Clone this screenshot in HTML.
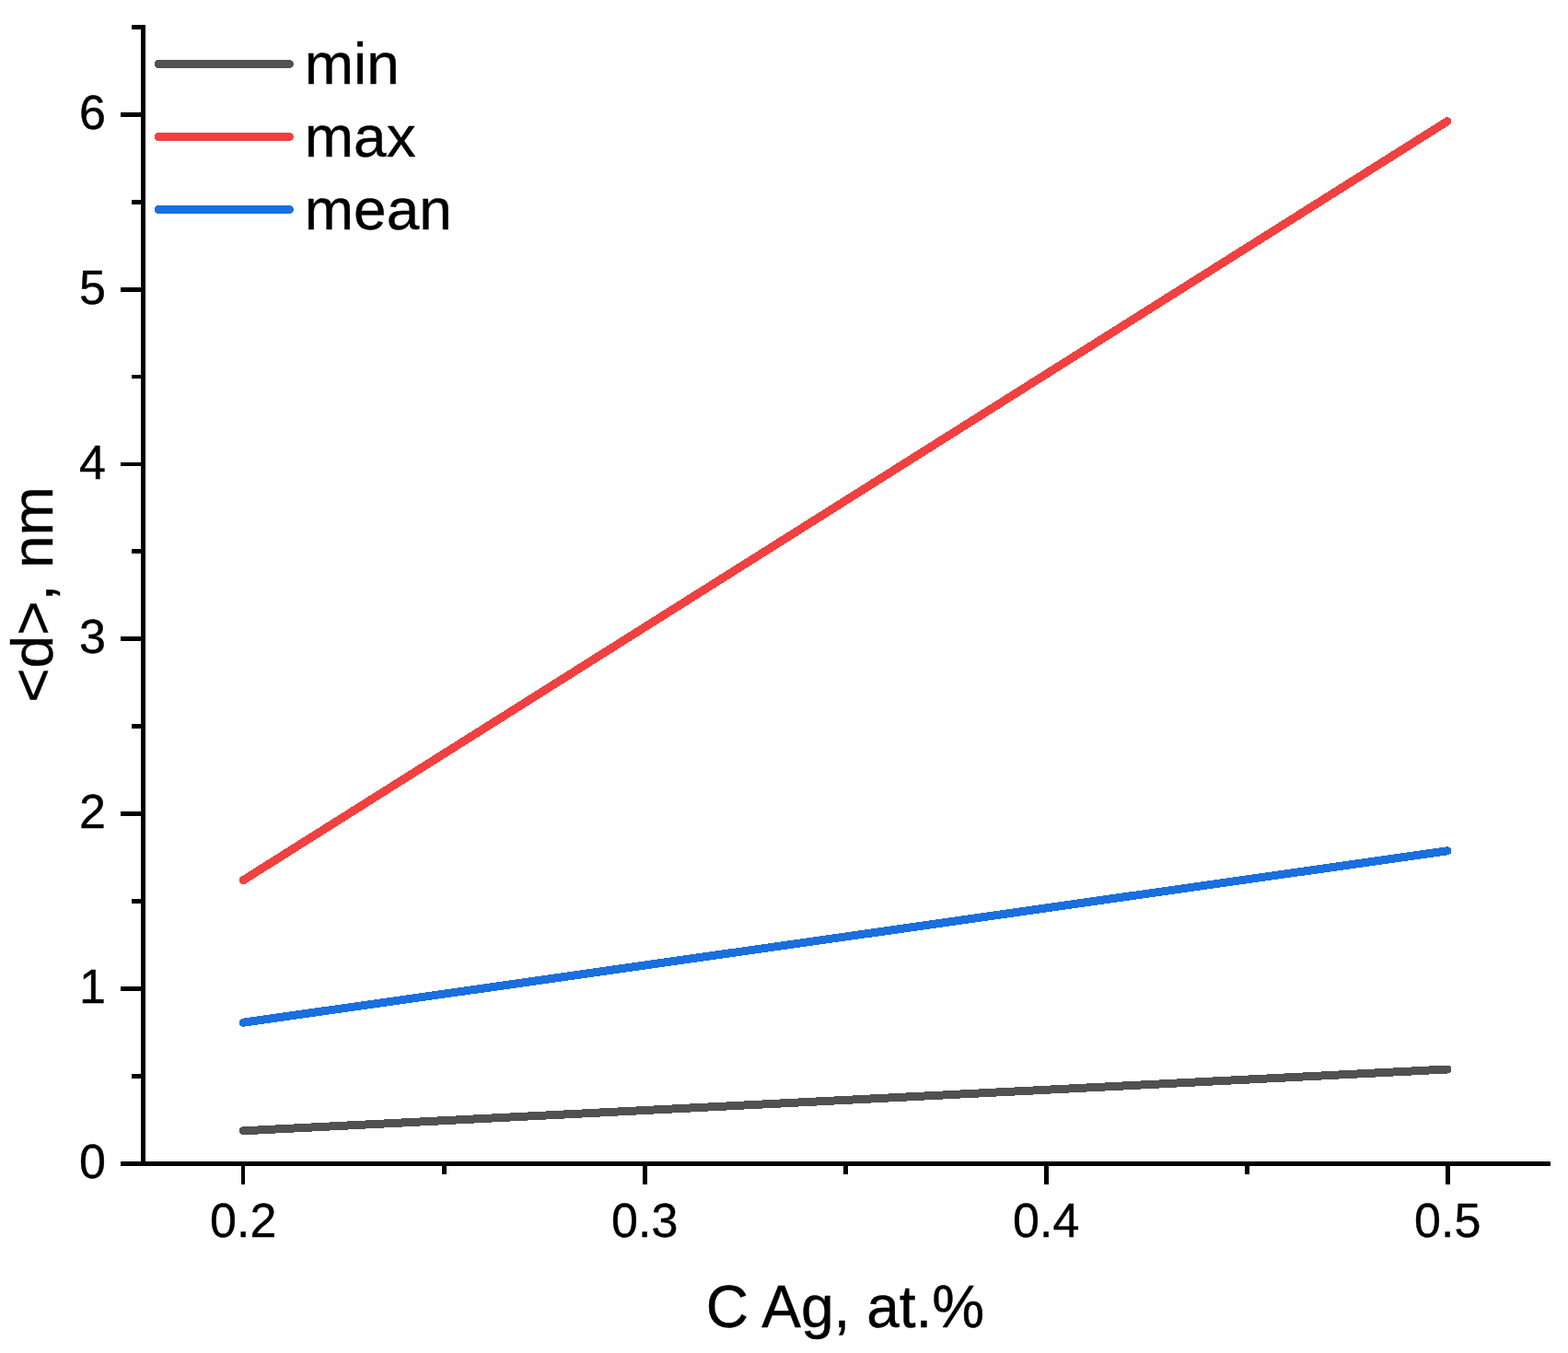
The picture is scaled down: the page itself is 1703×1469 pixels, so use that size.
<!DOCTYPE html>
<html lang="en">
<head>
<meta charset="utf-8">
<title>&lt;d&gt;, nm vs C Ag, at.%</title>
<style>
html,body{margin:0;padding:0;background:#fff;}
body{width:1703px;height:1469px;overflow:hidden;}
svg{display:block;position:absolute;left:0;top:0;}
text{font-family:"Liberation Sans",Arial,Helvetica,sans-serif;fill:#000;stroke:#000;stroke-width:0.4px;stroke-linejoin:round;}
.tick{font-size:52px;}
.big{font-size:64px;}
</style>
</head>
<body>
<svg width="1703" height="1469" viewBox="0 0 1703 1469">
<rect x="0" y="0" width="1703" height="1469" fill="#ffffff"/>
<g fill="none" stroke-width="9" stroke-linecap="round" stroke-linejoin="round" shape-rendering="crispEdges">
<line x1="264.2" y1="1227.8" x2="1572" y2="1161" stroke="#515151"/>
<line x1="264.2" y1="955.7" x2="1572" y2="131.7" stroke="#F14040"/>
<line x1="264.3" y1="1110.2" x2="1572" y2="923.8" stroke="#1A6FDF"/>
<line x1="172" y1="69.5" x2="314.5" y2="69.5" stroke="#515151" stroke-width="9"/>
<line x1="172" y1="148.5" x2="314.5" y2="148.5" stroke="#F14040" stroke-width="9"/>
<line x1="172" y1="227.5" x2="314.5" y2="227.5" stroke="#1A6FDF" stroke-width="9"/>
</g>
<g fill="#000" shape-rendering="crispEdges">
<rect x="153" y="27" width="5" height="1239"/>
<rect x="131" y="1261" width="1553" height="5"/>
<rect x="131" y="122" width="22" height="5"/>
<rect x="131" y="312" width="22" height="5"/>
<rect x="131" y="502" width="22" height="4"/>
<rect x="131" y="691" width="22" height="5"/>
<rect x="131" y="881" width="22" height="5"/>
<rect x="131" y="1071" width="22" height="5"/>
<rect x="143" y="27" width="10" height="5"/>
<rect x="143" y="217" width="10" height="5"/>
<rect x="143" y="407" width="10" height="4"/>
<rect x="143" y="596" width="10" height="5"/>
<rect x="143" y="786" width="10" height="5"/>
<rect x="143" y="976" width="10" height="5"/>
<rect x="143" y="1166" width="10" height="5"/>
<rect x="262" y="1266" width="4" height="20"/>
<rect x="698" y="1266" width="5" height="20"/>
<rect x="1134" y="1266" width="5" height="20"/>
<rect x="1570" y="1266" width="5" height="20"/>
<rect x="480" y="1266" width="5" height="9"/>
<rect x="916" y="1266" width="5" height="9"/>
<rect x="1352" y="1266" width="5" height="9"/>
</g>
<g class="tick" text-anchor="end">
<text x="114.8" y="1278.8">0</text>
<text x="114.8" y="1089.0">1</text>
<text x="114.8" y="899.1">2</text>
<text x="114.8" y="709.3">3</text>
<text x="114.8" y="519.5">4</text>
<text x="114.8" y="329.6">5</text>
<text x="114.8" y="139.8">6</text>
</g>
<g class="tick" text-anchor="middle">
<text x="264.2" y="1343.2">0.2</text>
<text x="700.2" y="1343.2">0.3</text>
<text x="1136.2" y="1343.2">0.4</text>
<text x="1572.2" y="1343.2">0.5</text>
</g>
<g class="big">
<text transform="translate(330.8 91.0) scale(1 0.98)">min</text>
<text transform="translate(330.8 170.0) scale(1 0.98)">max</text>
<text transform="translate(330.8 249.0) scale(1 0.98)">mean</text>
</g>
<text class="big" text-anchor="middle" transform="translate(918 1441) scale(1 1.02)">C Ag, at.%</text>
<text class="big" text-anchor="middle" transform="translate(57.4 645.5) rotate(-90) scale(1 0.98)">&lt;d&gt;, nm</text>
</svg>
</body>
</html>
